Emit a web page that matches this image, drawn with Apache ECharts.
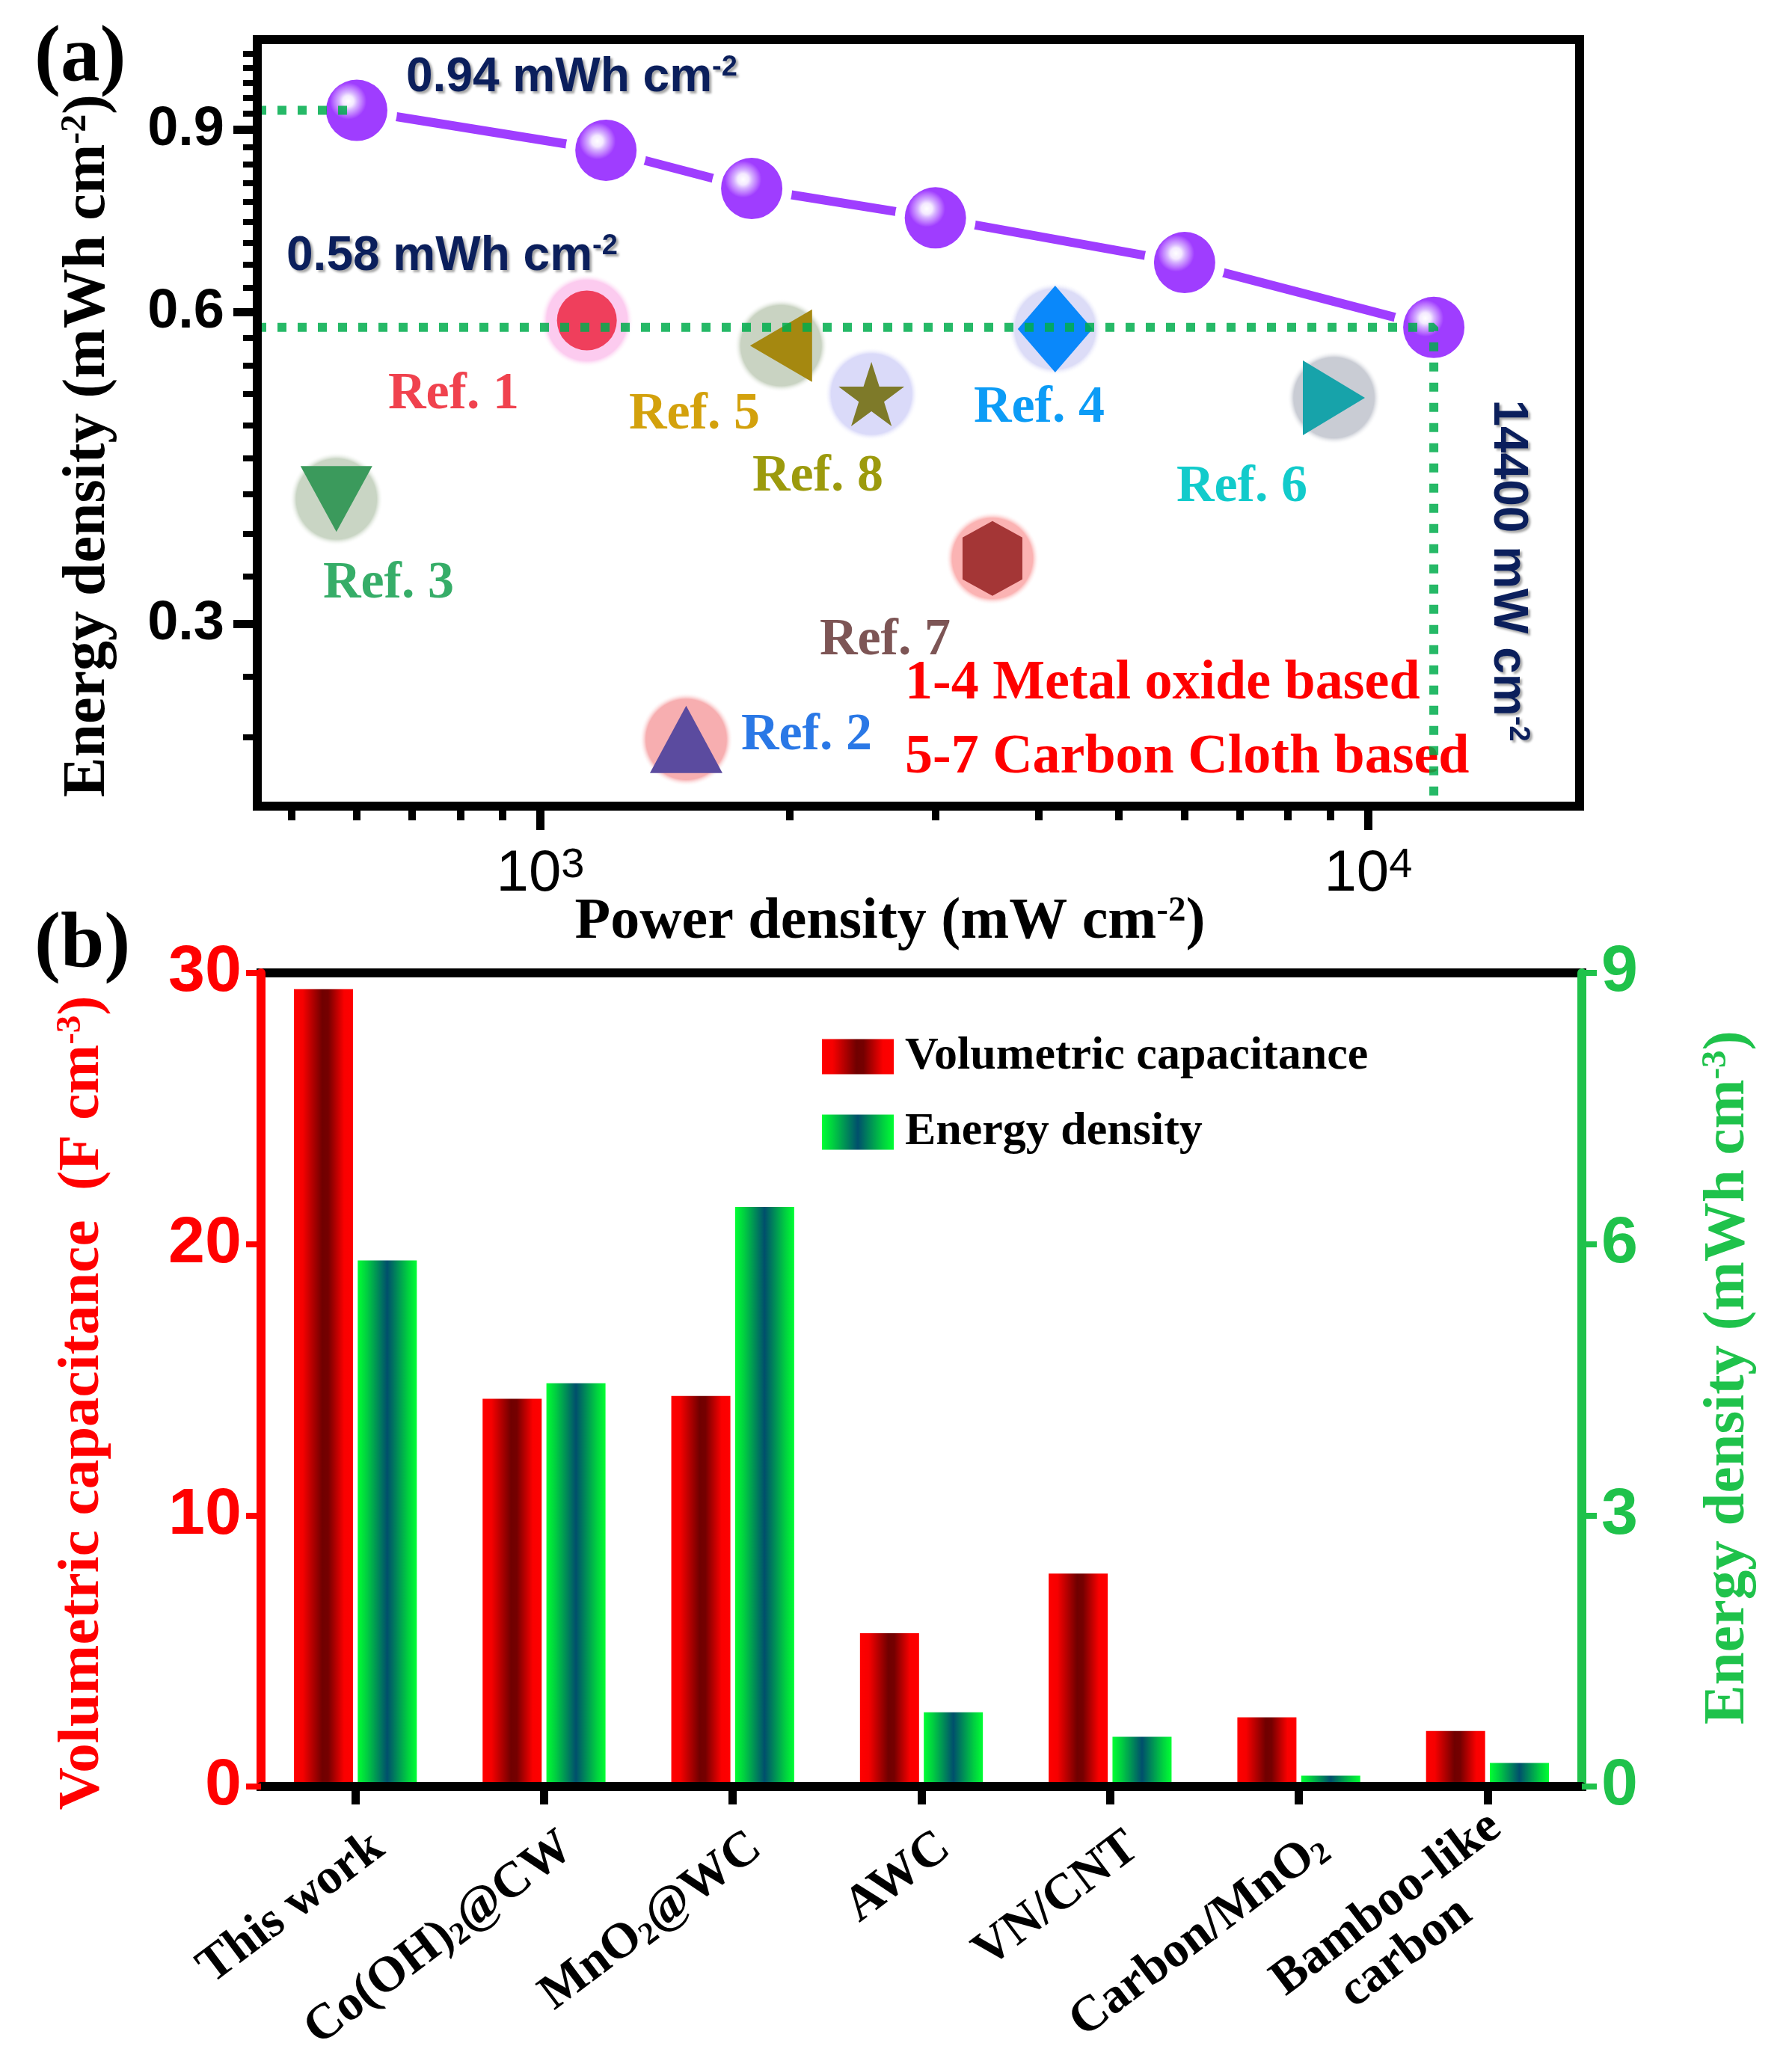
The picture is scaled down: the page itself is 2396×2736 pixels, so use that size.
<!DOCTYPE html>
<html><head><meta charset="utf-8">
<script src="https://cdn.jsdelivr.net/npm/echarts@6/dist/echarts.min.js"></script>
<style>html,body{margin:0;padding:0;background:#fff}#c{width:2396px;height:2736px}</style>
</head><body><div id="c"></div>
<script>
// ---------- Panel (a) data ----------
const thisWorkPower  = [600, 1200, 1800, 3000, 6000, 12000];
const thisWorkEnergy = [0.94, 0.86, 0.79, 0.74, 0.67, 0.58];
const refNames  = ['Ref. 1','Ref. 2','Ref. 3','Ref. 4','Ref. 5','Ref. 6','Ref. 7','Ref. 8'];
const refPower  = [1138, 1500, 567, 4186, 1953, 9089, 3516, 2511];
const refEnergy = [0.589, 0.232, 0.396, 0.578, 0.557, 0.496, 0.347, 0.500];
const xMajorTicks = [1000, 10000];
const xMinorTicks = [500, 600, 700, 800, 900, 2000, 3000, 4000, 5000, 6000, 7000, 8000, 9000];
const yMajorTicks = [0.3, 0.6, 0.9];
const yMinorTicks = [0.2333, 0.2667, 0.3333, 0.3667, 0.4, 0.4333, 0.4667, 0.5, 0.5333, 0.5667,
                     0.6333, 0.6667, 0.7, 0.7333, 0.7667, 0.8, 0.8333, 0.8667,
                     0.9333, 0.9667, 1.0, 1.0333, 1.0667];
const xRange = [455, 18000];
const yRange = [0.2, 1.1];

// ---------- Panel (b) data ----------
const materials = ['This work', 'Co(OH)2@CW', 'MnO2@WC', 'AWC', 'VN/CNT', 'Carbon/MnO2', 'Bamboo-like carbon'];
const volCapacitance = [29.4, 14.3, 14.4, 5.65, 7.85, 2.55, 2.05];
const volEnergy      = [5.82, 4.46, 6.41, 0.82, 0.55, 0.12, 0.26];
const capRange = [0, 30], capInterval = 10;
const energyRange = [0, 9], energyInterval = 3;

// ---------- styles ----------
const SERIF = '"Liberation Serif","Times New Roman",serif';
const SANS = '"Liberation Sans",Arial,sans-serif';
const NAVY = '#0b1f5c';
const GREEN = '#1fc24b';
const PURPLE = '#9f3dff';
const GAP_COLOR = '#ffffff';
const hexPath = 'path://M50,0 L100,22 L100,78 L50,100 L0,78 L0,22 Z';
const starPath = 'path://M50,2 L61.8,38.2 L99,38.2 L68.8,60.6 L80.2,96.6 L50,74.4 L19.8,96.6 L31.2,60.6 L1,38.2 L38.2,38.2 Z';
const refStyle = {
  'Ref. 1': {symbol:'circle',   size:[80,80],  rotate:0,   color:'#ef3f5c', halo:'#fccbef', text:'#f0424e', lx:519,  ly:528},
  'Ref. 2': {symbol:'triangle', size:[97,90],  rotate:0,   color:'#5b4b9f', halo:'#f7aeb0', text:'#2a78e6', lx:991,  ly:984},
  'Ref. 3': {symbol:'triangle', size:[96,88],  rotate:180, color:'#3b9a5c', halo:'#c9d5c4', text:'#36ad68', lx:432,  ly:781},
  'Ref. 4': {symbol:'diamond',  size:[100,116],rotate:0,   color:'#0a88fa', halo:'#dcdcf7', text:'#0c9cf6', lx:1302, ly:546},
  'Ref. 5': {symbol:'triangle', size:[97,83],  rotate:90,  color:'#a58810', halo:'#c9d3c2', text:'#d3a10c', lx:841,  ly:555},
  'Ref. 6': {symbol:'triangle', size:[100,83], rotate:-90, color:'#17a3aa', halo:'#c9ccd4', text:'#12cbcb', lx:1573, ly:652},
  'Ref. 7': {symbol:hexPath,    size:[80,100], rotate:0,   color:'#a43636', halo:'#fbb3b3', text:'#7d5555', lx:1096, ly:857},
  'Ref. 8': {symbol:starPath,   size:[88,86],  rotate:0,   color:'#7e7a29', halo:'#dadaf9', text:'#9c9a0c', lx:1006, ly:638}
};

const supRich = (size, font, color) => ({
  sup: {fontSize: Math.round(size*0.6), fontFamily: font, fontWeight: 'bold', fill: color, verticalAlign: 'top', lineHeight: Math.round(size*0.45)}
});
function txt(x, y, text, size, font, color, opts) {
  opts = opts || {};
  return {
    type: 'text', x: x, y: y, rotation: opts.rotation || 0, z: opts.z || 0,
    style: Object.assign({
      text: text, fill: color, fontSize: size, fontFamily: font, fontWeight: 'bold',
      align: opts.align || 'left', verticalAlign: 'middle', lineHeight: size,
      rich: supRich(size, font, color)
    }, opts.style || {})
  };
}
const navyShadow = {textShadowColor:'rgba(0,0,0,0.35)', textShadowBlur:3, textShadowOffsetX:3, textShadowOffsetY:3};

const graphics = [
  txt(46, 80, '(a)', 105, SERIF, '#000'),
  txt(46, 1266, '(b)', 105, SERIF, '#000'),
  txt(543, 104, '0.94 mWh cm{sup|-2}', 64, SANS, NAVY, {style: navyShadow}),
  txt(383, 343, '0.58 mWh cm{sup|-2}', 64, SANS, NAVY, {style: navyShadow}),
  txt(2016, 763, '14400 mW cm{sup|-2}', 64, SANS, NAVY, {align:'center', rotation:-Math.PI/2, style: navyShadow}),
  txt(1210, 915, '1-4 Metal oxide based', 74, SERIF, '#ff0000'),
  txt(1210, 1014, '5-7 Carbon Cloth based', 74, SERIF, '#ff0000'),
  txt(118, 596, 'Energy density (mWh cm{sup|-2})', 80, SERIF, '#000', {align:'center', rotation:Math.PI/2}),
  txt(1190, 1234, 'Power density (mW cm{sup|-2})', 78, SERIF, '#000', {align:'center'}),
  txt(111, 1876, 'Volumetric capacitance  (F cm{sup|-3})', 79, SERIF, '#ff0000', {align:'center', rotation:Math.PI/2}),
  txt(2311, 1842, 'Energy density (mWh cm{sup|-3})', 79, SERIF, GREEN, {align:'center', rotation:Math.PI/2})
];
refNames.forEach(n => {
  const s = refStyle[n];
  graphics.push(txt(s.lx, s.ly, n, 70, SERIF, s.text));
});

// ---------- series data built from arrays ----------
const thisWorkData = thisWorkPower.map((p, i) => [p, thisWorkEnergy[i]]);
const last = thisWorkPower.length - 1;
const guideTop = [[xRange[0], thisWorkEnergy[0]], [thisWorkPower[0], thisWorkEnergy[0]]];
const guideBottom = [[xRange[0], thisWorkEnergy[last]], [thisWorkPower[last], thisWorkEnergy[last]], [thisWorkPower[last], yRange[0]]];
const haloData = refNames.map((n, i) => ({
  name: n, value: [refPower[i], refEnergy[i]],
  itemStyle: {opacity: 1, color: {type:'radial', x:0.5, y:0.5, r:0.5, colorStops:[
    {offset:0, color: refStyle[n].halo}, {offset:0.86, color: refStyle[n].halo}, {offset:1, color:'rgba(255,255,255,0)'}]}}
}));
const refData = refNames.map((n, i) => ({
  name: n, value: [refPower[i], refEnergy[i]],
  symbol: refStyle[n].symbol, symbolSize: refStyle[n].size, symbolRotate: refStyle[n].rotate,
  itemStyle: {color: refStyle[n].color, opacity: 1}
}));

const guideStyle = {color:'#00ad4c', width:12, type:[12,15], cap:'butt', opacity:0.85};
const purpleGrad = {type:'radial', x:0.36, y:0.35, r:0.3, colorStops:[
  {offset:0, color:'#ffffff'}, {offset:0.3, color:'#f4eaff'}, {offset:0.5, color:'#d6b2ff'},
  {offset:0.8, color:'#b86cff'}, {offset:1, color:PURPLE}]};
const redGrad = {type:'linear', x:0, y:0, x2:1, y2:0, colorStops:[
  {offset:0, color:'#ff0000'}, {offset:0.15, color:'#f60000'}, {offset:0.48, color:'#700000'},
  {offset:0.58, color:'#750000'}, {offset:0.85, color:'#fa0000'}, {offset:1, color:'#ff0000'}]};
const greenGrad = {type:'linear', x:0, y:0, x2:1, y2:0, colorStops:[
  {offset:0, color:'#00ff33'}, {offset:0.15, color:'#00d040'}, {offset:0.5, color:'#004f6c'},
  {offset:0.85, color:'#00d040'}, {offset:1, color:'#00ff33'}]};

const catLabel = v => {
  if (v === 'Bamboo-like carbon') return 'Bamboo-like\ncarbon' + '\u00a0'.repeat(6);
  return v.replace(/([A-Za-z\)])2/g, '$1{sub|2}');
};

const option = {
  backgroundColor: '#fff',
  animation: false,
  graphic: graphics,
  grid: [
    {left:344, top:53, width:1768, height:1025, show:true, borderColor:'#000', borderWidth:12, backgroundColor:'transparent', outerBoundsMode:'none', containLabel:false},
    {left:349, top:1301, width:1766, height:1088, show:true, borderColor:'#000', borderWidth:12, backgroundColor:'transparent', outerBoundsMode:'none', containLabel:false}
  ],
  legend: {
    data: ['Volumetric capacitance', 'Energy density'],
    orient: 'vertical', left: 1094, top: 1377, itemWidth: 96, itemHeight: 47, itemGap: 39,
    icon: 'rect',
    textStyle: {fontFamily: SERIF, fontWeight: 'bold', fontSize: 62, lineHeight: 62, color: '#000', padding: [0,0,0,10]}
  },
  xAxis: [
    {type:'log', gridIndex:0, min:xRange[0], max:xRange[1], position:'bottom', z:10,
     axisLine:{show:true, lineStyle:{color:'#000', width:12}},
     axisTick:{show:true, customValues:xMajorTicks, length:32, lineStyle:{color:'#000', width:11}},
     axisLabel:{customValues:xMajorTicks, margin:52, color:'#000',
       formatter: v => '{b|10}{sup|' + Math.round(Math.log10(v)) + '}',
       rich:{b:{fontFamily:SANS, fontSize:78, lineHeight:78, color:'#000'},
             sup:{fontFamily:SANS, fontSize:56, color:'#000', verticalAlign:'top', lineHeight:22}}},
     splitLine:{show:false}, minorTick:{show:false}},
    {type:'log', gridIndex:0, min:xRange[0], max:xRange[1], position:'bottom', z:10,
     axisLine:{show:false},
     axisTick:{show:true, customValues:xMinorTicks, length:19, lineStyle:{color:'#000', width:10}},
     axisLabel:{show:false}, splitLine:{show:false}},
    {type:'category', gridIndex:1, data:materials, position:'bottom', z:10,
     axisLine:{show:true, lineStyle:{color:'#000', width:12}},
     axisTick:{show:true, alignWithLabel:true, length:24, lineStyle:{color:'#000', width:11}},
     axisLabel:{rotate:37, margin:33, interval:0, color:'#000', fontFamily:SERIF, fontWeight:'bold', fontSize:67, lineHeight:68,
       padding:[104,0,0,0],
       formatter: catLabel,
       rich:{sub:{fontFamily:SERIF, fontWeight:'bold', fontSize:42, color:'#000', verticalAlign:'bottom', lineHeight:32}}},
     splitLine:{show:false}}
  ],
  yAxis: [
    {type:'log', gridIndex:0, min:yRange[0], max:yRange[1], position:'left', z:10,
     axisLine:{show:true, lineStyle:{color:'#000', width:12}},
     axisTick:{show:true, customValues:yMajorTicks, length:32, lineStyle:{color:'#000', width:11}},
     axisLabel:{customValues:yMajorTicks, margin:44, color:'#000', fontFamily:SANS, fontWeight:'bold', fontSize:74,
       formatter: v => v.toFixed(1)},
     splitLine:{show:false}, minorTick:{show:false}},
    {type:'log', gridIndex:0, min:yRange[0], max:yRange[1], position:'left', z:10,
     axisLine:{show:false},
     axisTick:{show:true, customValues:yMinorTicks, length:19, lineStyle:{color:'#000', width:8}},
     axisLabel:{show:false}, splitLine:{show:false}},
    {type:'value', gridIndex:1, min:capRange[0], max:capRange[1], interval:capInterval, position:'left', z:10,
     axisLine:{show:true, lineStyle:{color:'#ff0000', width:12}},
     axisTick:{show:true, length:20, lineStyle:{color:'#ff0000', width:8}},
     axisLabel:{margin:26, color:'#ff0000', fontFamily:SANS, fontWeight:'bold', fontSize:88},
     splitLine:{show:false}},
    {type:'value', gridIndex:1, min:energyRange[0], max:energyRange[1], interval:energyInterval, position:'right', z:10,
     axisLine:{show:true, lineStyle:{color:GREEN, width:12}},
     axisTick:{show:true, length:20, lineStyle:{color:GREEN, width:8}},
     axisLabel:{margin:26, color:GREEN, fontFamily:SANS, fontWeight:'bold', fontSize:88},
     splitLine:{show:false}}
  ],
  series: [
    {type:'scatter', name:'halo', xAxisIndex:0, yAxisIndex:0, data:haloData, symbol:'circle', symbolSize:125, z:2, silent:true},
    {type:'scatter', name:'refs', xAxisIndex:0, yAxisIndex:0, data:refData, z:3},
    {type:'line', name:'This work line', xAxisIndex:0, yAxisIndex:0, data:thisWorkData, z:4,
     symbol:'none', lineStyle:{color:PURPLE, width:12}},
    {type:'scatter', name:'gap', xAxisIndex:0, yAxisIndex:0, data:thisWorkData, z:5, silent:true,
     symbol:'circle', symbolSize:108, itemStyle:{color:GAP_COLOR, opacity:1}},
    {type:'scatter', name:'This work', xAxisIndex:0, yAxisIndex:0, data:thisWorkData, z:6,
     symbol:'circle', symbolSize:82, itemStyle:{color:purpleGrad, opacity:1}},
    {type:'line', name:'guideTop', xAxisIndex:0, yAxisIndex:0, data:guideTop, z:7, symbol:'none', lineStyle:guideStyle, silent:true},
    {type:'line', name:'guideBottom', xAxisIndex:0, yAxisIndex:0, data:guideBottom, z:7, symbol:'none', lineStyle:guideStyle, silent:true},
    {type:'bar', name:'Volumetric capacitance', xAxisIndex:2, yAxisIndex:2, data:volCapacitance,
     barWidth:79, barGap:'8%', itemStyle:{color:redGrad}},
    {type:'bar', name:'Energy density', xAxisIndex:2, yAxisIndex:3, data:volEnergy,
     barWidth:79, barGap:'8%', itemStyle:{color:greenGrad}}
  ]
};
const chart = echarts.init(document.getElementById('c'), null, {renderer:'canvas'});
chart.setOption(option);
</script>
</body></html>
